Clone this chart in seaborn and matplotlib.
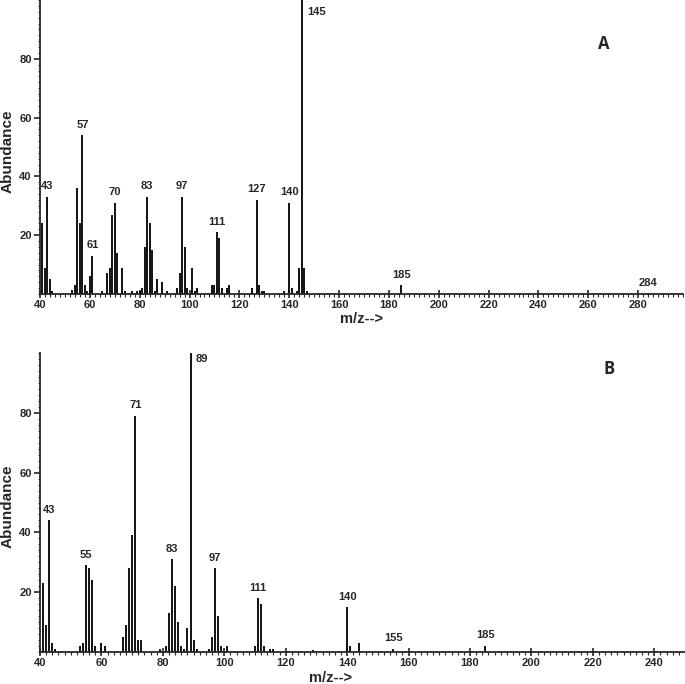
import numpy as np
import seaborn as sns
import matplotlib.pyplot as plt
from matplotlib.ticker import MultipleLocator

# Spectrum A: m/z and relative abundance
mz_a = [41, 42, 43, 44, 45, 53, 54, 55, 56, 57, 58, 59, 60, 61, 65, 67, 68, 69, 70, 71,
        73, 74, 77, 79, 80, 81, 82, 83, 84, 85, 86, 87, 89, 91, 95, 96, 97, 98, 99, 101,
        102, 103, 109, 110, 111, 112, 113, 115, 116, 125, 127, 128, 129, 130, 138, 140,
        141, 143, 144, 145, 146, 147, 185, 284]
ab_a = [24, 9, 33, 5, 1, 1.5, 3, 36, 24, 54, 3, 1, 6, 13, 1, 7, 9, 27, 31, 14,
        9, 1, 1, 1, 1, 2, 16, 33, 24, 15, 1, 5, 4, 1, 2, 7, 33, 16, 2, 9,
        1, 2, 3, 3, 21, 19, 2, 2, 3, 2, 32, 3, 1, 1, 1, 31,
        2, 1, 9, 100, 9, 1, 3, 0.3]
labels_a = [43, 57, 61, 70, 83, 97, 111, 127, 140, 185, 284]
base_a = 145

# Spectrum B
mz_b = [41, 42, 43, 44, 45, 53, 54, 55, 56, 57, 58, 60, 61, 67, 68, 69, 70, 71, 72, 73,
        79, 81, 82, 83, 84, 85, 86, 87, 88, 89, 90, 91, 95, 96, 97, 98, 99, 101,
        110, 111, 112, 113, 115, 116, 129, 140, 141, 144, 155, 185]
ab_b = [23, 9, 44, 3, 1, 2, 3, 29, 28, 24, 2, 3, 2, 5, 9, 28, 39, 79, 4, 4,
        1, 2, 13, 31, 22, 10, 2, 1, 8, 100, 4, 1, 1, 5, 28, 12, 2, 2,
        2, 18, 16, 2, 1, 1, 0.8, 15, 2, 3, 1, 2]
labels_b = [43, 55, 71, 83, 97, 111, 140, 155, 185]
base_b = 89

sns.set_style("ticks")
plt.rcParams['font.family'] = ['Liberation Sans', 'DejaVu Sans']
plt.rcParams['font.weight'] = 'bold'

fig = plt.figure(figsize=(6.85, 6.84), dpi=100)
ax_a = fig.add_axes([40 / 685, 1 - 294 / 684, 643 / 685, 294 / 684])
ax_b = fig.add_axes([40 / 685, 1 - 652 / 684, 645 / 685, 299 / 684])


def draw_spectrum(ax, mz, ab, labels, base, base_off, xmax, letter, letter_xy,
                  ylab_xy, xlab_xy):
    ax.vlines(mz, 0, ab, color='black', linewidth=1.3)
    ax.set_xlim(40, xmax)
    ax.set_ylim(0, 100)
    lookup = dict(zip(mz, ab))
    for m in labels:
        ax.annotate(str(m), (m, lookup[m]), xytext=(0, 4), textcoords='offset points',
                    ha='center', va='bottom', fontsize=8, fontweight='bold')
    ax.annotate(str(base), (base, 100), xytext=base_off, textcoords='offset points',
                ha='left', va='top', fontsize=8, fontweight='bold')
    ax.text(letter_xy[0], letter_xy[1], letter, transform=ax.transAxes,
            fontsize=12, fontweight='bold', family=['Open Sans', 'DejaVu Sans'],
            ha='center', va='center')
    sns.despine(ax=ax)
    ax.spines['left'].set_linewidth(1.3)
    ax.spines['bottom'].set_linewidth(1.3)
    ax.xaxis.set_major_locator(MultipleLocator(20))
    ax.xaxis.set_minor_locator(MultipleLocator(2))
    ax.yaxis.set_major_locator(MultipleLocator(20))
    ax.yaxis.set_minor_locator(MultipleLocator(2))
    ax.tick_params(axis='x', which='major', direction='inout', length=6, width=1.2,
                   labelsize=8, pad=1)
    ax.tick_params(axis='x', which='minor', direction='out', length=2.5, width=0.8)
    ax.tick_params(axis='y', which='major', direction='out', length=4, width=1.2,
                   labelsize=8, pad=2)
    ax.tick_params(axis='y', which='minor', direction='out', length=1.5, width=0.6)
    yt = [20, 40, 60, 80]
    ax.set_yticks(yt)
    ax.set_yticklabels([str(v) for v in yt])
    for lab in ax.get_xticklabels() + ax.get_yticklabels():
        lab.set_fontweight('bold')
    ax.set_ylabel('Abundance', fontsize=11, fontweight='bold')
    ax.set_xlabel('m/z-->', fontsize=10.5, fontweight='bold')
    ax.yaxis.set_label_coords(*ylab_xy)
    ax.xaxis.set_label_coords(*xlab_xy)


draw_spectrum(ax_a, mz_a, ab_a, labels_a, base_a, (4, -5), 298, 'A', (0.877, 0.85),
              (-0.04, 0.486), (0.5, -0.062))
draw_spectrum(ax_b, mz_b, ab_b, labels_b, base_b, (4, -1), 250, 'B', (0.882, 0.946),
              (-0.04, 0.488), (0.451, -0.062))

fig.savefig('out.png', dpi=100)
